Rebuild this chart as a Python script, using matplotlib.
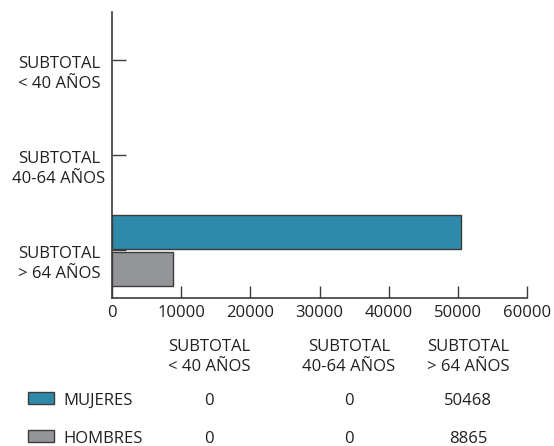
import numpy as np
import matplotlib
matplotlib.use('Agg')
import matplotlib.pyplot as plt
import matplotlib.transforms as mtransforms
from matplotlib.patches import Rectangle

plt.rcParams['font.family'] = ['Open Sans', 'DejaVu Sans']

categories = [('SUBTOTAL', '< 40 AÑOS'), ('SUBTOTAL', '40-64 AÑOS'), ('SUBTOTAL', '> 64 AÑOS')]
series_names = ['MUJERES', 'HOMBRES']
mujeres = [0, 0, 50468]
hombres = [0, 0, 8865]
x_ticks = [0, 10000, 20000, 30000, 40000, 50000, 60000]

colors = ['#2e8aaa', '#939598']
edge = '#3c3c3c'
text_color = '#231f20'
fs = 12

W, H = 554, 446
fig = plt.figure(figsize=(W / 100, H / 100), dpi=100)
ax = fig.add_axes([112 / W, 1 - 298 / H, (527 - 112) / W, (298 - 12) / H])


def fx(px):
    return px / W


def fy(px):
    return 1 - px / H


y = np.arange(len(categories))
bar_h = 0.36
# empty bars get no outline so nothing shows along the axis
for vals, off, c in [(mujeres, -0.195, colors[0]), (hombres, 0.195, colors[1])]:
    ax.barh(y + off, vals, height=bar_h, color=c, edgecolor=edge,
            linewidth=[1 if v else 0 for v in vals])

ax.set_xlim(0, 60000)
ax.set_ylim(2.5, -0.5)
ax.set_xticks(x_ticks)
ax.set_xticklabels([str(t) for t in x_ticks], fontsize=fs, color=text_color)
ax.set_yticks(y)
ax.set_yticklabels([])
ax.tick_params(axis='both', direction='in', length=9, width=1, color=edge, pad=5)
ax.tick_params(axis='y', length=10)
for s in ['top', 'right']:
    ax.spines[s].set_visible(False)
for s in ['left', 'bottom']:
    ax.spines[s].set_color(edge)
    ax.spines[s].set_linewidth(1.2)

# category labels: two centred lines, the first one level with the tick
base = ax.get_yaxis_transform()
line1 = mtransforms.offset_copy(base, fig=fig, y=-8, units='dots')
line2 = mtransforms.offset_copy(base, fig=fig, y=-28, units='dots')
for i, (top, bottom) in enumerate(categories):
    ax.text(-0.128, i, top, transform=line1, ha='center', va='baseline',
            fontsize=fs, color=text_color)
    ax.text(-0.128, i, bottom, transform=line2, ha='center', va='baseline',
            fontsize=fs, color=text_color)

# data table under the chart
col_x = [209, 349, 468]
for cx, (top, bottom) in zip(col_x, categories):
    fig.text(fx(cx), fy(351), top, ha='center', va='baseline', fontsize=fs, color=text_color)
    fig.text(fx(cx), fy(371), bottom, ha='center', va='baseline', fontsize=fs, color=text_color)

row_base = [405, 443]
for name, vals, c, rb in zip(series_names, [mujeres, hombres], colors, row_base):
    fig.add_artist(Rectangle((fx(28), fy(rb - 1)), 26 / W, 12.5 / H,
                             transform=fig.transFigure, facecolor=c,
                             edgecolor=edge, linewidth=1))
    fig.text(fx(63), fy(rb), name, ha='left', va='baseline', fontsize=fs, color=text_color)
    for cx, v in zip(col_x, vals):
        fig.text(fx(cx), fy(rb), str(v), ha='center', va='baseline',
                 fontsize=fs, color=text_color)

fig.savefig('out.png', dpi=100)
